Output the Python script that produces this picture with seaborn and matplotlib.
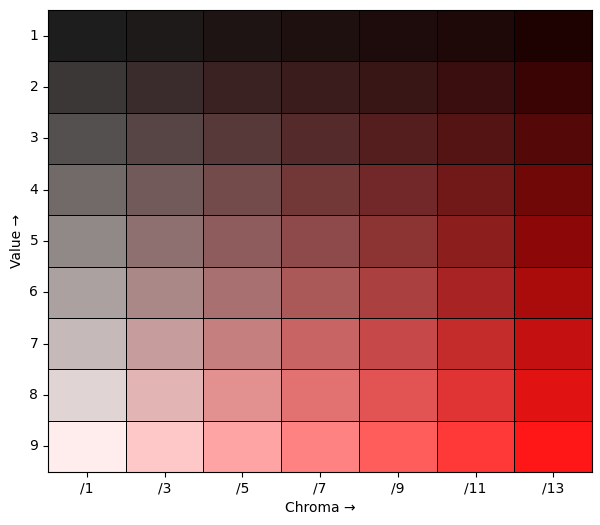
import numpy as np
import pandas as pd
import seaborn as sns
import matplotlib.pyplot as plt
from matplotlib.colors import ListedColormap

values = ['1', '2', '3', '4', '5', '6', '7', '8', '9']
chromas = ['/1', '/3', '/5', '/7', '/9', '/11', '/13']

# chip colours, one list per Munsell value row
row_1 = ['#1d1d1d', '#1e1a1a', '#1e1414', '#1f1010', '#1e0c0c', '#1e0808', '#1e0101']
row_2 = ['#3a3736', '#3a2c2c', '#3a2222', '#3a1c1c', '#391616', '#3a0e0e', '#3a0404']
row_3 = ['#545050', '#574545', '#573939', '#552a2a', '#551e1e', '#541414', '#550808']
row_4 = ['#716a69', '#725a5a', '#744b4b', '#723838', '#722828', '#711818', '#700808']
row_5 = ['#918988', '#8e7070', '#8e5c5c', '#8e4a4a', '#8c3434', '#8c1e1e', '#8c0808']
row_6 = ['#aba1a0', '#aa8888', '#a87070', '#aa5858', '#aa4040', '#a82424', '#aa0c0c']
row_7 = ['#c5b9b9', '#c79c9c', '#c67f7f', '#c86464', '#c64848', '#c42c2c', '#c41010']
row_8 = ['#e0d4d4', '#e2b4b4', '#e29090', '#e27272', '#e25454', '#e03434', '#e01212']
row_9 = ['#ffeded', '#ffc8c8', '#ffa4a4', '#ff8282', '#ff5c5c', '#ff3838', '#ff1616']

rows = [row_1, row_2, row_3, row_4, row_5, row_6, row_7, row_8, row_9]
colors = [c for r in rows for c in r]

# each cell gets its own index into a listed colormap
idx = np.arange(len(colors)).reshape(len(values), len(chromas))
df = pd.DataFrame(idx, index=values, columns=chromas)
cmap = ListedColormap(colors)

fig = plt.figure(figsize=(6, 5.25), dpi=100)
ax = fig.add_axes([0.08, 0.101, 0.907, 0.880])
sns.heatmap(df, cmap=cmap, vmin=-0.5, vmax=len(colors) - 0.5, cbar=False,
            linewidths=0.7, linecolor='black', ax=ax)

for sp in ax.spines.values():
    sp.set_visible(True)
    sp.set_linewidth(0.8)

ax.tick_params(axis='both', length=3.5, labelsize=10)
ax.set_yticklabels(values, rotation=0)
ax.set_xticklabels(chromas, rotation=0)
ax.set_xlabel('Chroma →')
ax.set_ylabel('Value →')

plt.savefig('out.png', dpi=100)
